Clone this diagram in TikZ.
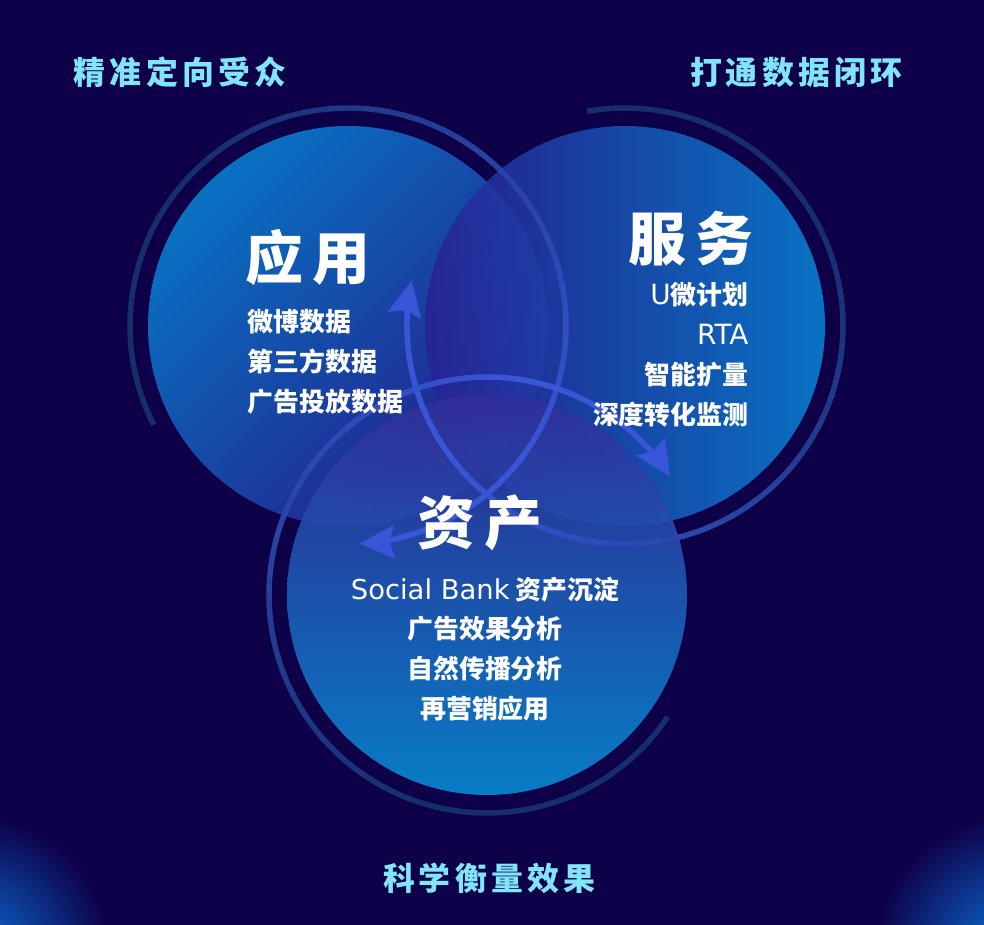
\documentclass[tikz,border=0pt]{standalone}
\usepackage{fontspec}
\setmainfont{Noto Sans CJK SC}
\newfontfamily\goalfont{Noto Sans CJK SC}[LetterSpace=13]
\newfontfamily\headfont{Noto Sans CJK SC}[LetterSpace=15]
\newfontfamily\latinfont{DejaVu Sans}
\usepackage{tikz}
\usetikzlibrary{arrows.meta}

\definecolor{bgnavy}{RGB}{14,0,72}
\definecolor{goalcyan}{RGB}{128,228,250}
\definecolor{skyblue}{RGB}{8,130,212}
\definecolor{deepindigo}{RGB}{40,34,148}
\definecolor{ringlo}{RGB}{22,46,108}
\definecolor{ringhi}{RGB}{58,86,216}
\definecolor{glow}{RGB}{10,110,215}

\begin{document}
\begin{tikzpicture}[
			x=1bp, y=1bp,
			bubble/.style={
					circle,
					minimum size=400bp,
					inner sep=0pt,
					fill opacity=0.88
				},
			ring/.style={line width=5.5bp, line cap=butt},
			goal/.style={text=goalcyan, font=\goalfont\bfseries\fontsize{32}{32}\selectfont},
			heading/.style={text=white, font=\headfont\bfseries\fontsize{58}{58}\selectfont},
			items/.style={text=white, font=\bfseries\fontsize{26}{40}\selectfont},
			> ={Stealth[length=35bp, width=33bp, inset=5bp]}
		]

		\useasboundingbox (0,0) rectangle (984,925);
		\fill[bgnavy] (0,0) rectangle (984,925);

		\begin{scope}
			\clip (0,0) rectangle (984,925);
			\shade[inner color=glow, outer color=bgnavy] (-25,-25) circle (135);
			\shade[inner color=glow, outer color=bgnavy] (1009,-25) circle (135);
		\end{scope}

		\node (app) [bubble, shade,
			top color=skyblue, bottom color=deepindigo, shading angle=45] at (348,599) {};

		\node (service) [bubble, shade,
			left color=deepindigo, right color=skyblue] at (625,599) {};

		\node (asset) [bubble, shade,
			top color=deepindigo!95!white, bottom color=skyblue!90!cyan] at (487,330) {};

		\foreach \c/\s/\e in {app/207/-73, service/100/-178, asset/-34/-313}{
				\foreach \i in {0,...,39}{
						\pgfmathsetmacro{\a}{\s+(\e-\s)*\i/40}
						\pgfmathsetmacro{\b}{\s+(\e-\s)*(\i+1)/40-0.6}
						\pgfmathtruncatemacro{\p}{max(0,min(100,(\i-10)*4))}
						\draw[ring, draw=ringhi!\p!ringlo]
						(\c.center) ++(\a:218) arc[start angle=\a, end angle=\b, radius=218];
					}
				\draw[ring, draw=ringhi, fill=ringhi, ->]
				(\c.center) ++(\e:218) arc[start angle=\e, end angle=\e-14, radius=218];
			}

		\node (appHead) [heading] at (308,668) {应用};
		\node (serviceHead) [heading] at (691,686) {服务};
		\node (assetHead) [heading] at (480,402) {资产};

		\node (appList) [items, align=left, anchor=west] at (244,563)
		{微博数据\\第三方数据\\广告投放数据};

		\node (serviceList) [items, align=right, anchor=east] at (752,570)
		{{\latinfont\mdseries\fontsize{28}{40}\selectfont U}微计划\\{\latinfont\mdseries\fontsize{28}{40}\selectfont RTA}\\智能扩量\\深度转化监测};

		\node (assetList) [items, align=center] at (485,276)
		{{\latinfont\mdseries\fontsize{27.5}{40}\selectfont Social Bank} 资产沉淀\\广告效果分析\\自然传播分析\\再营销应用};

		\node (targeting) [goal] at (180,853) {精准定向受众};
		\node (loop) [goal] at (796,853) {打通数据闭环};
		\node (measure) [goal] at (489,47) {科学衡量效果};

	\end{tikzpicture}
\end{document}
